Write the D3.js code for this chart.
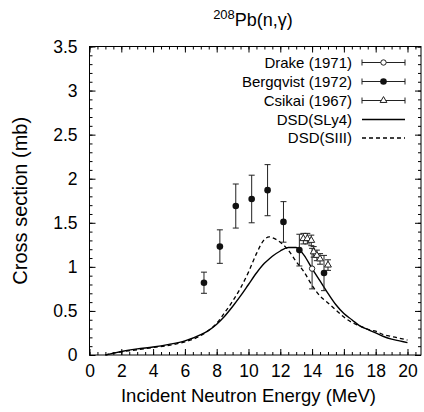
<!DOCTYPE html>
<html>
<head>
<meta charset="utf-8">
<script src="https://cdn.jsdelivr.net/npm/d3@7"></script>
<style>
  body { margin: 0; background: #fff; }
  svg { font-family: "Liberation Sans", Arial, sans-serif; }
  .tick text { font-size: 17.5px; fill: #000; }
  .domain { display: none; }
  .tick line { stroke: #000; }
</style>
</head>
<body>
<div id="wrapper"></div>
<script>
// data
const drakeE = [14.0]
const drakeV = [0.98]
const drakeErr = [0.23]

const bergE = [7.2, 8.2, 9.2, 10.2, 11.2, 12.2, 13.2, 14.75]
const bergV = [0.82, 1.23, 1.69, 1.77, 1.87, 1.51, 1.19, 0.93]
const bergErr = [0.12, 0.19, 0.25, 0.27, 0.29, 0.23, 0.18, 0.2]

const csikE = [13.45, 13.7, 13.95, 14.1, 14.3, 14.5, 15.0]
const csikV = [1.32, 1.32, 1.30, 1.17, 1.13, 1.09, 1.02]
const csikErr = [0.06, 0.06, 0.06, 0.06, 0.06, 0.06, 0.06]

const curveE = [1, 1.5, 2, 3, 4, 5, 6, 7, 7.5, 8, 8.5, 9, 9.5, 10, 10.5, 11, 11.3, 11.5, 12, 12.5, 13, 13.5, 14, 14.5, 15, 15.5, 16, 16.5, 17, 17.5, 18, 18.5, 19, 19.5, 20]
const sly4 = [0, 0.02, 0.04, 0.07, 0.09, 0.12, 0.16, 0.23, 0.28, 0.35, 0.44, 0.55, 0.67, 0.80, 0.93, 1.04, 1.09, 1.12, 1.18, 1.22, 1.22, 1.13, 0.98, 0.84, 0.70, 0.57, 0.47, 0.40, 0.33, 0.29, 0.25, 0.21, 0.18, 0.16, 0.14]
const siii = [0, 0.02, 0.035, 0.06, 0.085, 0.11, 0.15, 0.22, 0.28, 0.36, 0.48, 0.61, 0.76, 0.94, 1.15, 1.31, 1.34, 1.33, 1.28, 1.19, 1.06, 0.94, 0.79, 0.67, 0.59, 0.51, 0.43, 0.37, 0.33, 0.29, 0.27, 0.23, 0.21, 0.19, 0.17]

const xTicks = [0, 2, 4, 6, 8, 10, 12, 14, 16, 18, 20]
const yTicks = [0, 0.5, 1, 1.5, 2, 2.5, 3, 3.5]
const yTickLabels = ["0", "0.5", "1", "1.5", "2", "2.5", "3", "3.5"]

const legendNames = ["Drake (1971)", "Bergqvist (1972)", "Csikai (1967)", "DSD(SLy4)", "DSD(SIII)"]

// dimensions
const dimensions = {
  width: 424,
  height: 412,
  margin: { top: 46.5, right: 3, bottom: 57, left: 89.5 },
}
dimensions.boundedWidth = dimensions.width - dimensions.margin.left - dimensions.margin.right
dimensions.boundedHeight = dimensions.height - dimensions.margin.top - dimensions.margin.bottom

const wrapper = d3.select("#wrapper")
  .append("svg")
    .attr("width", dimensions.width)
    .attr("height", dimensions.height)

const bounds = wrapper.append("g")
    .attr("transform", `translate(${dimensions.margin.left}, ${dimensions.margin.top})`)

// scales
const xScale = d3.scaleLinear()
  .domain([0, 20.85])
  .range([0, dimensions.boundedWidth])

const yScale = d3.scaleLinear()
  .domain([0, 3.5])
  .range([dimensions.boundedHeight, 0])

// axes (ticks inward, mirrored)
const xMinor = d3.range(0, 20.51, 0.5)
const yMinor = d3.range(0, 3.51, 0.1)

bounds.append("g").attr("transform", `translate(0, ${dimensions.boundedHeight})`)
  .call(d3.axisBottom(xScale).tickValues(xMinor).tickSize(-3).tickSizeOuter(0).tickFormat(""))
bounds.append("g").attr("transform", `translate(0, ${dimensions.boundedHeight})`)
  .call(d3.axisBottom(xScale).tickValues(xTicks).tickSize(-6).tickSizeOuter(0).tickPadding(10))
bounds.append("g")
  .call(d3.axisTop(xScale).tickValues(xMinor).tickSize(-3).tickSizeOuter(0).tickFormat(""))
bounds.append("g")
  .call(d3.axisTop(xScale).tickValues(xTicks).tickSize(-6).tickSizeOuter(0).tickFormat(""))

bounds.append("g")
  .call(d3.axisLeft(yScale).tickValues(yMinor).tickSize(-3).tickSizeOuter(0).tickFormat(""))
bounds.append("g")
  .call(d3.axisLeft(yScale).tickValues(yTicks).tickSize(-6).tickSizeOuter(0).tickPadding(12)
    .tickFormat((d, i) => yTickLabels[i]))
bounds.append("g").attr("transform", `translate(${dimensions.boundedWidth}, 0)`)
  .call(d3.axisRight(yScale).tickValues(yMinor).tickSize(-3).tickSizeOuter(0).tickFormat(""))
bounds.append("g").attr("transform", `translate(${dimensions.boundedWidth}, 0)`)
  .call(d3.axisRight(yScale).tickValues(yTicks).tickSize(-6).tickSizeOuter(0).tickFormat(""))

bounds.append("rect")
    .attr("width", dimensions.boundedWidth)
    .attr("height", dimensions.boundedHeight)
    .attr("fill", "none")
    .attr("stroke", "#000")
    .attr("stroke-width", 1)

// curves
const lineGenerator = d3.line()
  .x(d => xScale(d[0]))
  .y(d => yScale(d[1]))
  .curve(d3.curveMonotoneX)

bounds.append("path")
    .attr("d", lineGenerator(curveE.map((e, i) => [e, sly4[i]])))
    .attr("fill", "none")
    .attr("stroke", "#000")
    .attr("stroke-width", 1.4)

bounds.append("path")
    .attr("d", lineGenerator(curveE.map((e, i) => [e, siii[i]])))
    .attr("fill", "none")
    .attr("stroke", "#000")
    .attr("stroke-width", 1.3)
    .attr("stroke-dasharray", "4,3")

// data points with error bars
const capW = 3
function drawErrorBars(E, V, Err) {
  const g = bounds.append("g").attr("stroke", "#222").attr("stroke-width", 1)
  E.forEach((e, i) => {
    const x = xScale(e)
    const y1 = yScale(V[i] + Err[i])
    const y2 = yScale(V[i] - Err[i])
    g.append("line").attr("x1", x).attr("x2", x).attr("y1", y1).attr("y2", y2)
    g.append("line").attr("x1", x - capW).attr("x2", x + capW).attr("y1", y1).attr("y2", y1)
    g.append("line").attr("x1", x - capW).attr("x2", x + capW).attr("y1", y2).attr("y2", y2)
  })
}
drawErrorBars(bergE, bergV, bergErr)
drawErrorBars(drakeE, drakeV, drakeErr)
drawErrorBars(csikE, csikV, csikErr)

const triangle = d3.symbol().type(d3.symbolTriangle).size(20)

bounds.selectAll(".berg")
    .data(bergE)
  .enter().append("circle")
    .attr("cx", d => xScale(d))
    .attr("cy", (d, i) => yScale(bergV[i]))
    .attr("r", 3.3)
    .attr("fill", "#111")

bounds.selectAll(".drake")
    .data(drakeE)
  .enter().append("circle")
    .attr("cx", d => xScale(d))
    .attr("cy", (d, i) => yScale(drakeV[i]))
    .attr("r", 2.7)
    .attr("fill", "#fff")
    .attr("stroke", "#222")
    .attr("stroke-width", 1)

bounds.selectAll(".csik")
    .data(csikE)
  .enter().append("path")
    .attr("d", triangle)
    .attr("transform", (d, i) => `translate(${xScale(d)}, ${yScale(csikV[i])})`)
    .attr("fill", "#fff")
    .attr("stroke", "#222")
    .attr("stroke-width", 1)

// legend
const legend = wrapper.append("g")
const legendY = [62.5, 81.5, 100.5, 119.5, 138]
const textX = 352
const sampleX1 = 362
const sampleX2 = 405
const sampleMid = (sampleX1 + sampleX2) / 2

legendNames.forEach((name, i) => {
  legend.append("text")
      .attr("x", textX)
      .attr("y", legendY[i])
      .attr("dy", "0.35em")
      .attr("text-anchor", "end")
      .style("font-size", "15px")
      .text(name)
})
for (let i = 0; i < 3; i++) {
  const y = legendY[i]
  legend.append("line").attr("x1", sampleX1).attr("x2", sampleX2).attr("y1", y).attr("y2", y)
      .attr("stroke", "#222")
  legend.append("line").attr("x1", sampleX1).attr("x2", sampleX1).attr("y1", y - 3).attr("y2", y + 3)
      .attr("stroke", "#222")
  legend.append("line").attr("x1", sampleX2).attr("x2", sampleX2).attr("y1", y - 3).attr("y2", y + 3)
      .attr("stroke", "#222")
}
legend.append("circle").attr("cx", sampleMid).attr("cy", legendY[0]).attr("r", 2.7)
    .attr("fill", "#fff").attr("stroke", "#222")
legend.append("circle").attr("cx", sampleMid).attr("cy", legendY[1]).attr("r", 3.3)
    .attr("fill", "#111")
legend.append("path").attr("d", triangle).attr("transform", `translate(${sampleMid}, ${legendY[2]})`)
    .attr("fill", "#fff").attr("stroke", "#222")
legend.append("line").attr("x1", sampleX1).attr("x2", sampleX2)
    .attr("y1", legendY[3]).attr("y2", legendY[3])
    .attr("stroke", "#000").attr("stroke-width", 1.4)
legend.append("line").attr("x1", sampleX1).attr("x2", sampleX2)
    .attr("y1", legendY[4]).attr("y2", legendY[4])
    .attr("stroke", "#000").attr("stroke-width", 1.3).attr("stroke-dasharray", "4,3")

// titles
const title = wrapper.append("text")
    .attr("x", 253)
    .attr("y", 26)
    .attr("text-anchor", "middle")
    .style("font-size", "18px")
title.append("tspan").attr("dy", "-7").style("font-size", "13px").text("208")
title.append("tspan").attr("dy", "7").text("Pb(n,γ)")

wrapper.append("text")
    .attr("x", dimensions.margin.left + xScale(10))
    .attr("y", 402)
    .attr("text-anchor", "middle")
    .style("font-size", "18.5px")
    .text("Incident Neutron Energy (MeV)")

wrapper.append("text")
    .attr("transform", `translate(27, ${dimensions.margin.top + yScale(1.75)}) rotate(-90)`)
    .attr("text-anchor", "middle")
    .style("font-size", "20px")
    .text("Cross section (mb)")
</script>
</body>
</html>
